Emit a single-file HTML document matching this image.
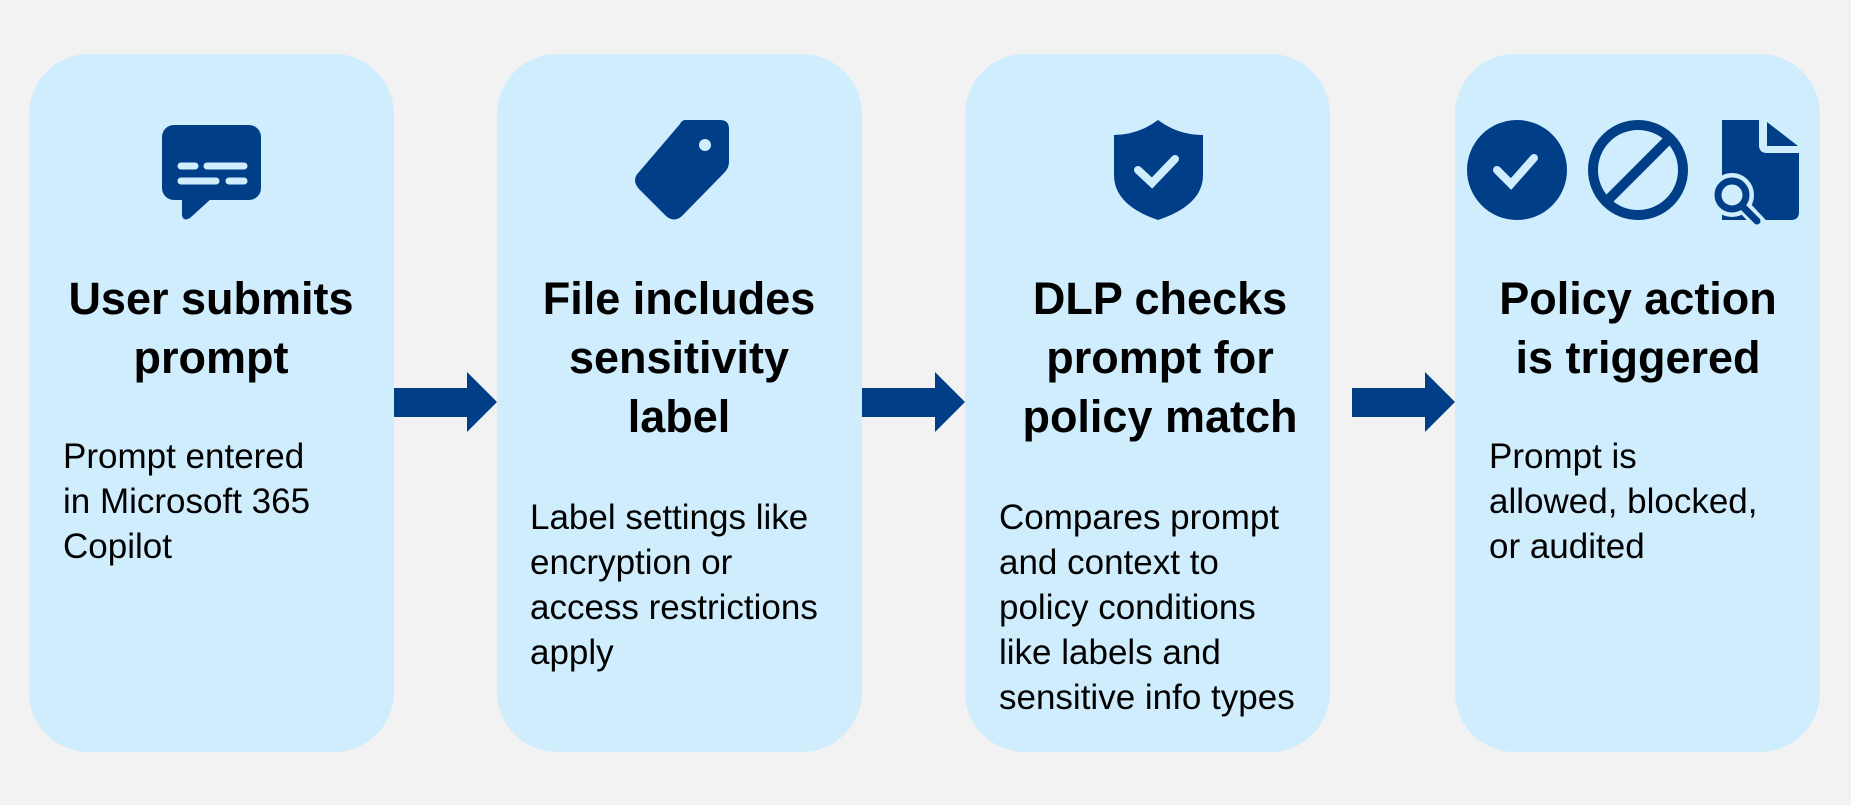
<!DOCTYPE html>
<html><head><meta charset="utf-8"><style>
html,body{margin:0;padding:0;background:#f2f2f2;}
svg{display:block;}
text{font-family:"Liberation Sans",sans-serif;fill:#000;}
.t{font-size:45px;font-weight:bold;text-anchor:middle;}
.b{font-size:35px;}
</style></head><body>
<svg width="1851" height="805" viewBox="0 0 1851 805">
<rect width="1851" height="805" fill="#f2f2f2"/>
<g fill="#cfedfc">
<rect x="29" y="54" width="365" height="698" rx="60"/>
<rect x="497" y="54" width="365" height="698" rx="60"/>
<rect x="965" y="54" width="365" height="698" rx="60"/>
<rect x="1455" y="54" width="365" height="698" rx="60"/>
</g>
<g fill="#003f87">
<polygon points="394,388 467,388 467,372 497,402 467,432 467,417 394,417"/>
<polygon points="862,388 935,388 935,372 965,402 935,432 935,417 862,417"/>
<polygon points="1352,388 1425,388 1425,372 1455,402 1425,432 1425,417 1352,417"/>
<!-- chat -->
<rect x="162" y="125" width="99" height="75" rx="12"/>
<path d="M182,195 L182,215 Q183,222 190,218 L212,198 Z"/>
<!-- tag -->
<path d="M685,120 L720,120 Q729,120 729,129 L729,162 Q729,168 724,173 L682,216 Q674,223 666,216 L639,189 Q631,180 639,172 L680,124 Q682,120 685,120 Z"/>
<!-- shield -->
<path d="M1158,120 Q1138,135 1114,135 L1114,175 Q1114,205 1158,220 Q1203,205 1203,175 L1203,135 Q1178,135 1158,120 Z"/>
<!-- check circle -->
<circle cx="1517" cy="170" r="50"/>
<!-- doc -->
<path d="M1722,120 L1759,120 L1759,145 Q1759,153 1767,153 L1799,153 L1799,212 Q1799,220 1791,220 L1722,220 Z"/>
<path d="M1767,122 L1798,146 L1767,146 Z"/>
</g>
<g stroke="#cfedfc" stroke-linecap="round" fill="none">
<line x1="181" y1="166" x2="195" y2="166" stroke-width="7"/>
<line x1="207" y1="166" x2="244" y2="166" stroke-width="7"/>
<line x1="181" y1="181" x2="216" y2="181" stroke-width="7"/>
<line x1="229" y1="181" x2="244" y2="181" stroke-width="7"/>
<polyline points="1138,170 1152,183 1175,159" stroke-width="8"/>
<polyline points="1497,170 1511,184 1534,158" stroke-width="8"/>
</g>
<circle cx="705" cy="145" r="6" fill="#cfedfc"/>
<g stroke="#003f87" fill="none">
<circle cx="1638" cy="170" r="45" stroke-width="10"/>
<line x1="1670" y1="138" x2="1606" y2="202" stroke-width="10"/>
<line x1="1745" y1="208" x2="1760" y2="224" stroke-width="14" stroke="#cfedfc" stroke-linecap="round"/>
<circle cx="1732" cy="195" r="15" stroke-width="14" stroke="#cfedfc" fill="#cfedfc"/>
<circle cx="1732" cy="195" r="14" stroke-width="7"/>
<line x1="1743" y1="207" x2="1757" y2="221" stroke-width="7" stroke-linecap="round"/>
</g>
<text class="t" x="211" y="314">User submits</text>
<text class="t" x="211" y="373">prompt</text>
<text class="b" x="63" y="468">Prompt entered</text>
<text class="b" x="63" y="513">in Microsoft 365</text>
<text class="b" x="63" y="558">Copilot</text>
<text class="t" x="679" y="314">File includes</text>
<text class="t" x="679" y="373">sensitivity</text>
<text class="t" x="679" y="432">label</text>
<text class="b" x="530" y="529">Label settings like</text>
<text class="b" x="530" y="574">encryption or</text>
<text class="b" x="530" y="619">access restrictions</text>
<text class="b" x="530" y="664">apply</text>
<text class="t" x="1160" y="314">DLP checks</text>
<text class="t" x="1160" y="373">prompt for</text>
<text class="t" x="1160" y="432">policy match</text>
<text class="b" x="999" y="529">Compares prompt</text>
<text class="b" x="999" y="574">and context to</text>
<text class="b" x="999" y="619">policy conditions</text>
<text class="b" x="999" y="664">like labels and</text>
<text class="b" x="999" y="709">sensitive info types</text>
<text class="t" x="1638" y="314">Policy action</text>
<text class="t" x="1638" y="373">is triggered</text>
<text class="b" x="1489" y="468">Prompt is</text>
<text class="b" x="1489" y="513">allowed, blocked,</text>
<text class="b" x="1489" y="558">or audited</text>
</svg>
</body></html>
